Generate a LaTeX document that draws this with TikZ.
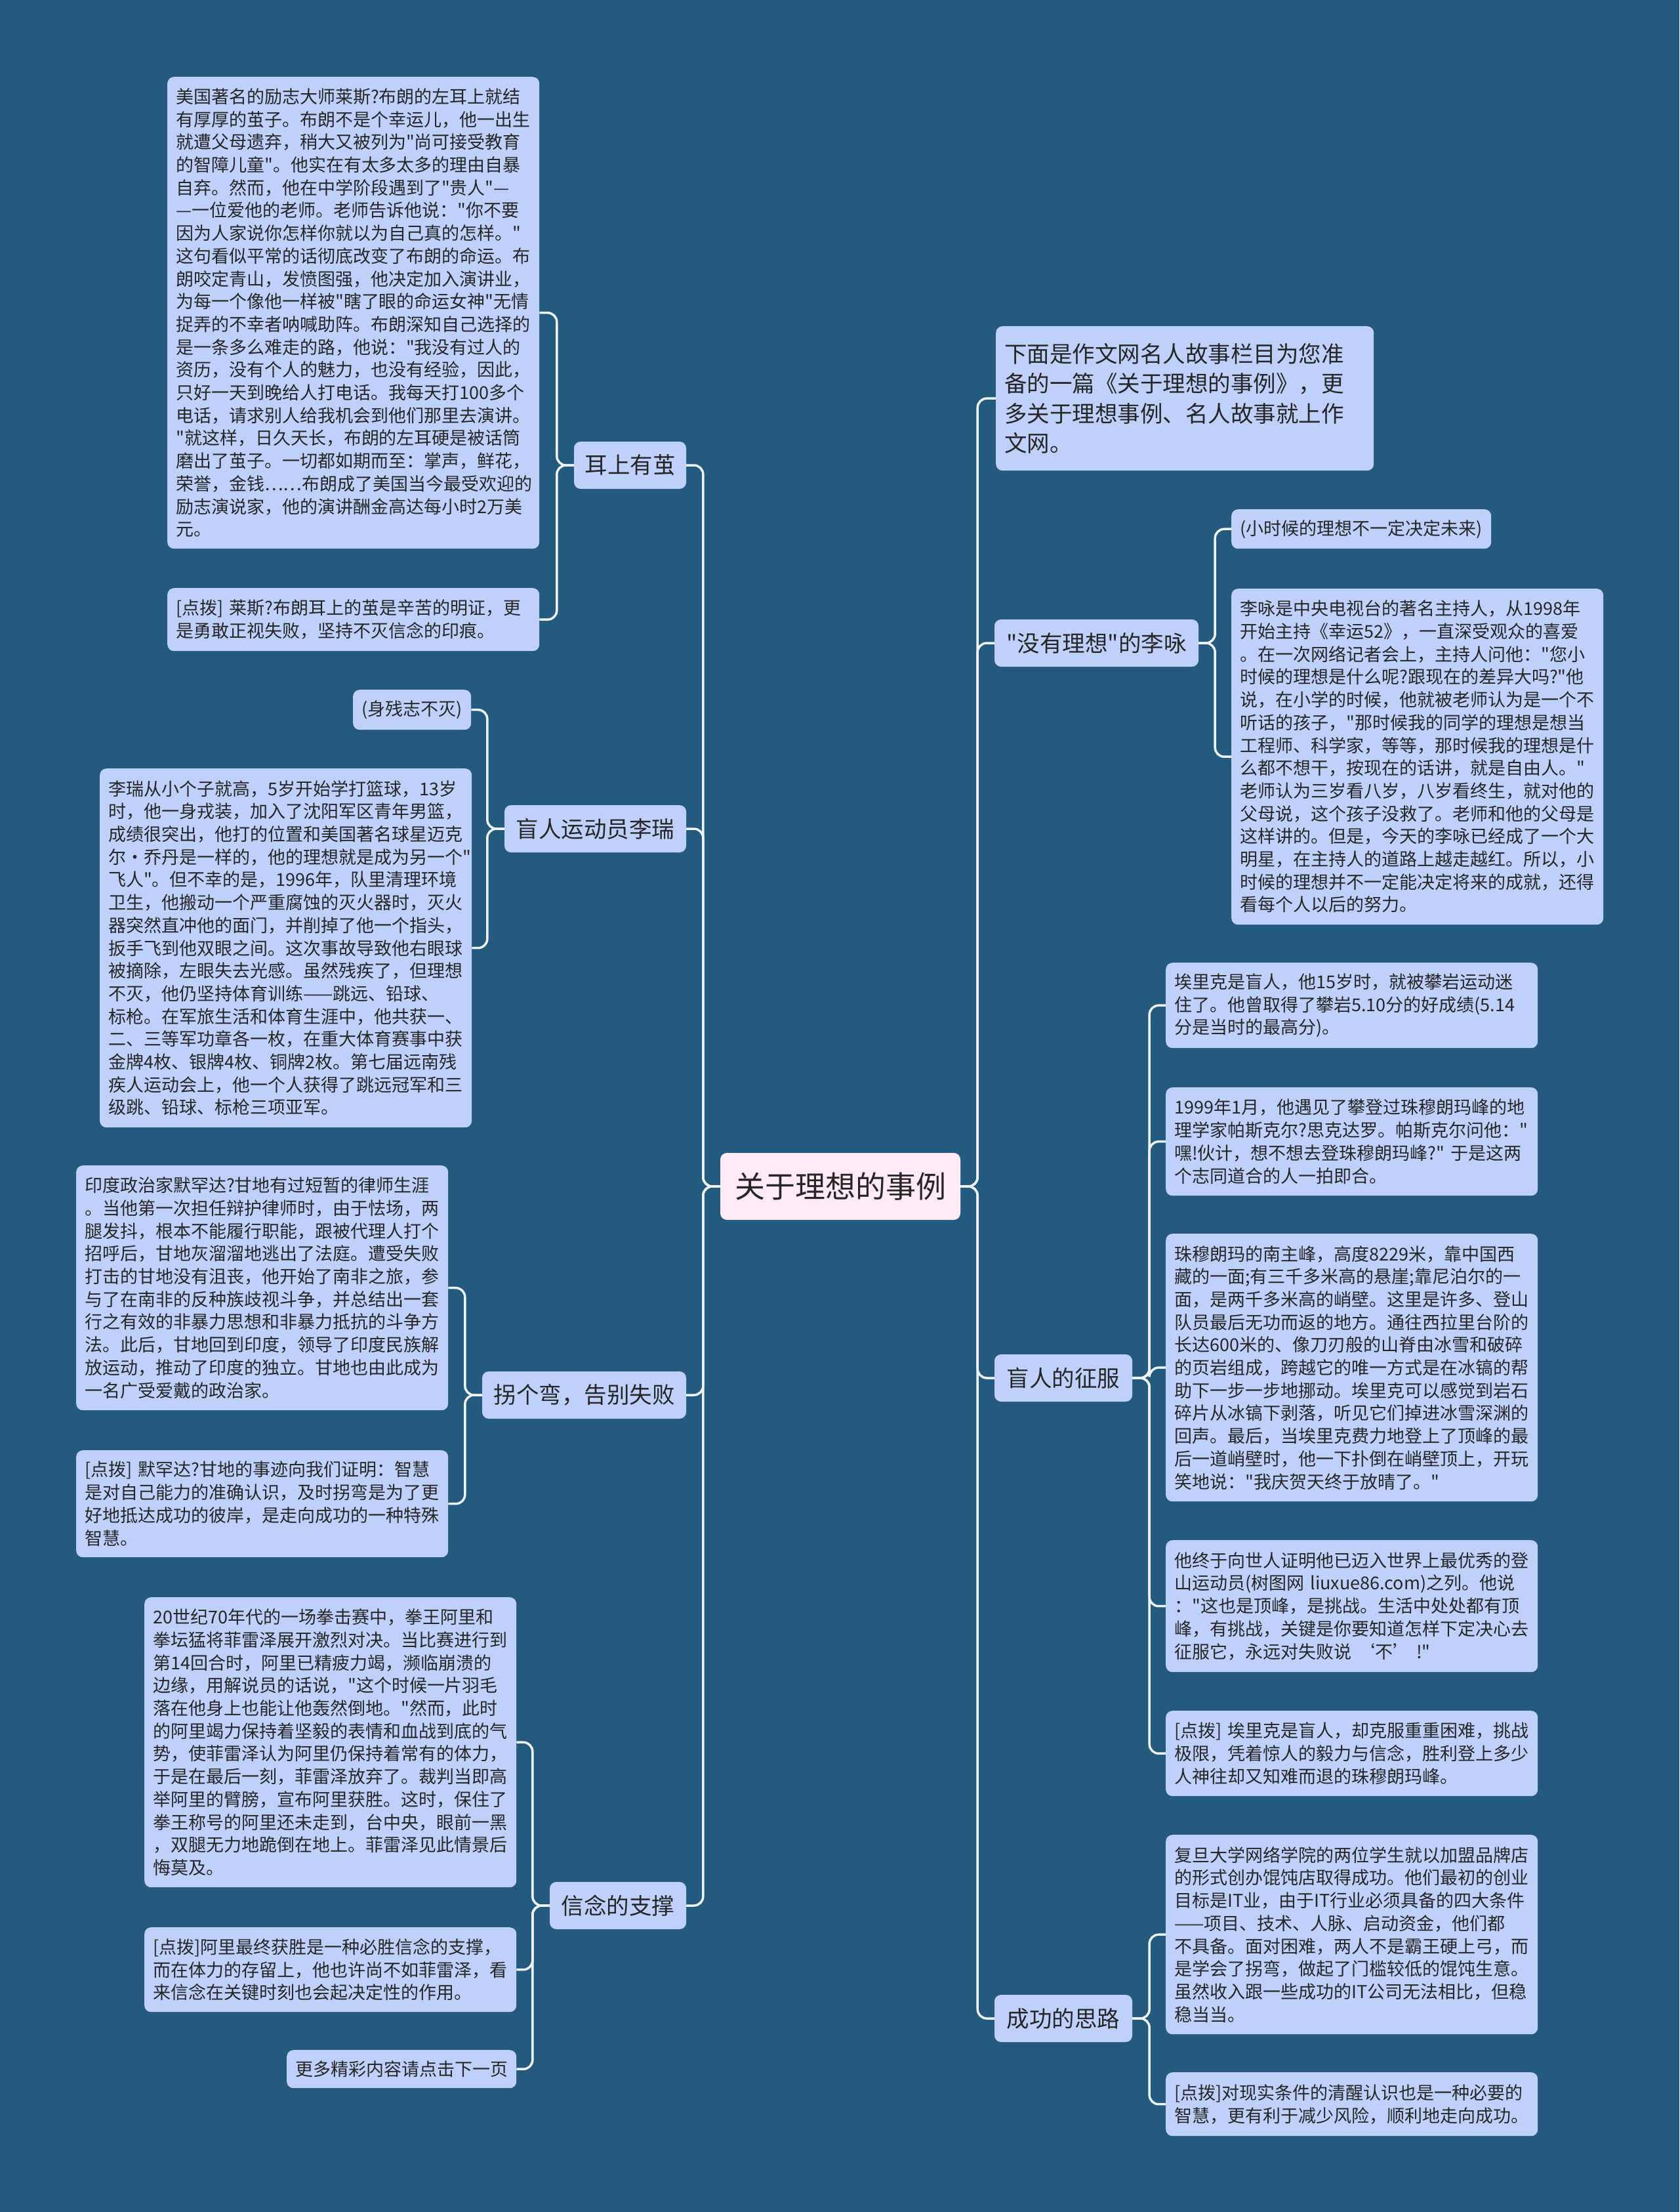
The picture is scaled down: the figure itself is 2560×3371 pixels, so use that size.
\documentclass[tikz,border=0pt]{standalone}
\usepackage{fontspec}
\newfontfamily\cjk{Noto Sans CJK SC}
\definecolor{bgc}{HTML}{235A7E}
\definecolor{leafc}{HTML}{BFD1FA}
\definecolor{rootc}{HTML}{FFEAF6}
\definecolor{linec}{HTML}{EEF3FA}
\definecolor{txtc}{HTML}{262626}
\newcommand\lfnt{\cjk\fontsize{27}{34.7}\selectfont}
\newcommand\mfnt{\cjk\fontsize{34.5}{45.5}\selectfont}
\newcommand\rfnt{\cjk\fontsize{46}{55}\selectfont}
\begin{document}
\begin{tikzpicture}[x=1pt,y=-1pt,
 leaf/.style={anchor=north west, fill=leafc, rounded corners=10pt, inner xsep=13pt, inner ysep=0pt, align=left, font=\lfnt, text=txtc, text width=541pt},
 tag/.style={anchor=north west, fill=leafc, rounded corners=10pt, inner sep=0pt, font=\lfnt, text=txtc},
 mainn/.style={fill=leafc, rounded corners=10pt, inner sep=0pt, font=\mfnt, text=txtc, minimum height=72pt},
 rootn/.style={fill=rootc, rounded corners=10pt, inner sep=0pt, font=\rfnt, text=txtc, minimum width=366pt, minimum height=102pt},
 conn/.style={draw=linec, line width=3.5pt, rounded corners=14pt}]
\useasboundingbox (0,0) rectangle (2560,3371);
\fill[bgc] (0,0) rectangle (2560,3371);

% root
\node[rootn] (root) at (1281,1808) {关于理想的事例};

% level 1 left
\node[mainn, minimum width=171pt] (e) at (960.5,709) {耳上有茧};
\node[mainn, minimum width=277pt] (m) at (907.5,1263) {盲人运动员李瑞};
\node[mainn, minimum width=311pt] (g) at (890.5,2126) {拐个弯，告别失败};
\node[mainn, minimum width=208pt] (x) at (942,2904) {信念的支撑};

% level 1 right
\node[leaf, font=\mfnt, text width=550pt, minimum height=220pt] (d) at (1518,497) {下面是作文网名人故事栏目为您准\\备的一篇《关于理想的事例》，更\\多关于理想事例、名人故事就上作\\文网。};
\node[mainn, minimum width=311pt] (y) at (1671.5,980) {"没有理想"的李咏};
\node[mainn, minimum width=210pt] (c) at (1621,2100) {盲人的征服};
\node[mainn, minimum width=210pt] (s) at (1621,3076) {成功的思路};

% leaves of 耳上有茧
\node[leaf, minimum height=719pt] (e1) at (255,117) {美国著名的励志大师莱斯?布朗的左耳上就结\\有厚厚的茧子。布朗不是个幸运儿，他一出生\\就遭父母遗弃，稍大又被列为"尚可接受教育\\的智障儿童"。他实在有太多太多的理由自暴\\自弃。然而，他在中学阶段遇到了"贵人"—\\—一位爱他的老师。老师告诉他说："你不要\\因为人家说你怎样你就以为自己真的怎样。"\\这句看似平常的话彻底改变了布朗的命运。布\\朗咬定青山，发愤图强，他决定加入演讲业，\\为每一个像他一样被"瞎了眼的命运女神"无情\\捉弄的不幸者呐喊助阵。布朗深知自己选择的\\是一条多么难走的路，他说："我没有过人的\\资历，没有个人的魅力，也没有经验，因此，\\只好一天到晚给人打电话。我每天打100多个\\电话，请求别人给我机会到他们那里去演讲。\\"就这样，日久天长，布朗的左耳硬是被话筒\\磨出了茧子。一切都如期而至：掌声，鲜花，\\荣誉，金钱……布朗成了美国当今最受欢迎的\\励志演说家，他的演讲酬金高达每小时2万美\\元。};
\node[leaf, minimum height=96pt] (e2) at (255,896) {[点拨]~莱斯?布朗耳上的茧是辛苦的明证，更\\是勇敢正视失败，坚持不灭信念的印痕。};

% leaves of 盲人运动员李瑞
\node[tag, minimum width=180pt, minimum height=61pt] (m1) at (538,1051) {(身残志不灭)};
\node[leaf, minimum height=547pt] (m2) at (152,1171) {李瑞从小个子就高，5岁开始学打篮球，13岁\\时，他一身戎装，加入了沈阳军区青年男篮，\\成绩很突出，他打的位置和美国著名球星迈克\\尔·乔丹是一样的，他的理想就是成为另一个"\\飞人"。但不幸的是，1996年，队里清理环境\\卫生，他搬动一个严重腐蚀的灭火器时，灭火\\器突然直冲他的面门，并削掉了他一个指头，\\扳手飞到他双眼之间。这次事故导致他右眼球\\被摘除，左眼失去光感。虽然残疾了，但理想\\不灭，他仍坚持体育训练——跳远、铅球、\\标枪。在军旅生活和体育生涯中，他共获一、\\二、三等军功章各一枚，在重大体育赛事中获\\金牌4枚、银牌4枚、铜牌2枚。第七届远南残\\疾人运动会上，他一个人获得了跳远冠军和三\\级跳、铅球、标枪三项亚军。};

% leaves of 拐个弯
\node[leaf, minimum height=373pt] (g1) at (116,1776) {印度政治家默罕达?甘地有过短暂的律师生涯\\。当他第一次担任辩护律师时，由于怯场，两\\腿发抖，根本不能履行职能，跟被代理人打个\\招呼后，甘地灰溜溜地逃出了法庭。遭受失败\\打击的甘地没有沮丧，他开始了南非之旅，参\\与了在南非的反种族歧视斗争，并总结出一套\\行之有效的非暴力思想和非暴力抵抗的斗争方\\法。此后，甘地回到印度，领导了印度民族解\\放运动，推动了印度的独立。甘地也由此成为\\一名广受爱戴的政治家。};
\node[leaf, minimum height=163pt] (g2) at (116,2210) {[点拨]~默罕达?甘地的事迹向我们证明：智慧\\是对自己能力的准确认识，及时拐弯是为了更\\好地抵达成功的彼岸，是走向成功的一种特殊\\智慧。};

% leaves of 信念的支撑
\node[leaf, minimum height=442pt] (x1) at (220,2434) {20世纪70年代的一场拳击赛中，拳王阿里和\\拳坛猛将菲雷泽展开激烈对决。当比赛进行到\\第14回合时，阿里已精疲力竭，濒临崩溃的\\边缘，用解说员的话说，"这个时候一片羽毛\\落在他身上也能让他轰然倒地。"然而，此时\\的阿里竭力保持着坚毅的表情和血战到底的气\\势，使菲雷泽认为阿里仍保持着常有的体力，\\于是在最后一刻，菲雷泽放弃了。裁判当即高\\举阿里的臂膀，宣布阿里获胜。这时，保住了\\拳王称号的阿里还未走到，台中央，眼前一黑\\，双腿无力地跪倒在地上。菲雷泽见此情景后\\悔莫及。};
\node[leaf, minimum height=129pt] (x2) at (220,2937) {[点拨]阿里最终获胜是一种必胜信念的支撑，\\而在体力的存留上，他也许尚不如菲雷泽，看\\来信念在关键时刻也会起决定性的作用。};
\node[tag, minimum width=350pt, minimum height=58pt] (x3) at (437,3124) {更多精彩内容请点击下一页};

% leaves of 李咏
\node[tag, minimum width=396pt, minimum height=60pt] (y1) at (1877,776) {(小时候的理想不一定决定未来)};
\node[leaf, minimum height=512pt] (y2) at (1877,897) {李咏是中央电视台的著名主持人，从1998年\\开始主持《幸运52》，一直深受观众的喜爱\\。在一次网络记者会上，主持人问他："您小\\时候的理想是什么呢?跟现在的差异大吗?"他\\说，在小学的时候，他就被老师认为是一个不\\听话的孩子，"那时候我的同学的理想是想当\\工程师、科学家，等等，那时候我的理想是什\\么都不想干，按现在的话讲，就是自由人。"\\老师认为三岁看八岁，八岁看终生，就对他的\\父母说，这个孩子没救了。老师和他的父母是\\这样讲的。但是，今天的李咏已经成了一个大\\明星，在主持人的道路上越走越红。所以，小\\时候的理想并不一定能决定将来的成就，还得\\看每个人以后的努力。};

% leaves of 盲人的征服
\node[leaf, minimum height=130pt] (c1) at (1777,1467) {埃里克是盲人，他15岁时，就被攀岩运动迷\\住了。他曾取得了攀岩5.10分的好成绩(5.14\\分是当时的最高分)。};
\node[leaf, minimum height=165pt] (c2) at (1777,1657) {1999年1月，他遇见了攀登过珠穆朗玛峰的地\\理学家帕斯克尔?思克达罗。帕斯克尔问他："\\嘿!伙计，想不想去登珠穆朗玛峰?"~于是这两\\个志同道合的人一拍即合。};
\node[leaf, minimum height=408pt] (c3) at (1777,1880) {珠穆朗玛的南主峰，高度8229米，靠中国西\\藏的一面;有三千多米高的悬崖;靠尼泊尔的一\\面，是两千多米高的峭壁。这里是许多、登山\\队员最后无功而返的地方。通往西拉里台阶的\\长达600米的、像刀刃般的山脊由冰雪和破碎\\的页岩组成，跨越它的唯一方式是在冰镐的帮\\助下一步一步地挪动。埃里克可以感觉到岩石\\碎片从冰镐下剥落，听见它们掉进冰雪深渊的\\回声。最后，当埃里克费力地登上了顶峰的最\\后一道峭壁时，他一下扑倒在峭壁顶上，开玩\\笑地说："我庆贺天终于放晴了。"};
\node[leaf, minimum height=201pt] (c4) at (1777,2347) {他终于向世人证明他已迈入世界上最优秀的登\\山运动员(树图网~liuxue86.com)之列。他说\\："这也是顶峰，是挑战。生活中处处都有顶\\峰，有挑战，关键是你要知道怎样下定决心去\\征服它，永远对失败说~‘不’~!"};
\node[leaf, minimum height=130pt] (c5) at (1777,2607) {[点拨]~埃里克是盲人，却克服重重困难，挑战\\极限，凭着惊人的毅力与信念，胜利登上多少\\人神往却又知难而退的珠穆朗玛峰。};

% leaves of 成功的思路
\node[leaf, minimum height=304pt] (s1) at (1777,2796) {复旦大学网络学院的两位学生就以加盟品牌店\\的形式创办馄饨店取得成功。他们最初的创业\\目标是IT业，由于IT行业必须具备的四大条件\\——项目、技术、人脉、启动资金，他们都\\不具备。面对困难，两人不是霸王硬上弓，而\\是学会了拐弯，做起了门槛较低的馄饨生意。\\虽然收入跟一些成功的IT公司无法相比，但稳\\稳当当。};
\node[leaf, minimum height=97pt] (s2) at (1777,3158) {[点拨]对现实条件的清醒认识也是一种必要的\\智慧，更有利于减少风险，顺利地走向成功。};

% connectors root -> level 1
\foreach \n in {e,m,g,x} \draw[conn] (root.west) -- ++(-26,0) |- (\n.east);
\foreach \n in {d,y,c,s} \draw[conn] (root.east) -- ++(26,0) |- (\n.west);

% level 1 -> leaves
\foreach \n in {e1,e2} \draw[conn] (e.west) -- ++(-26,0) |- (\n.east);
\foreach \n in {m1,m2} \draw[conn] (m.west) -- ++(-26,0) |- (\n.east);
\foreach \n in {g1,g2} \draw[conn] (g.west) -- ++(-26,0) |- (\n.east);
\foreach \n in {x1,x2,x3} \draw[conn] (x.west) -- ++(-26,0) |- (\n.east);
\foreach \n in {y1,y2} \draw[conn] (y.east) -- ++(25,0) |- (\n.west);
\foreach \n in {c1,c2,c3,c4,c5} \draw[conn] (c.east) -- ++(26,0) |- (\n.west);
\foreach \n in {s1,s2} \draw[conn] (s.east) -- ++(26,0) |- (\n.west);
\end{tikzpicture}
\end{document}
